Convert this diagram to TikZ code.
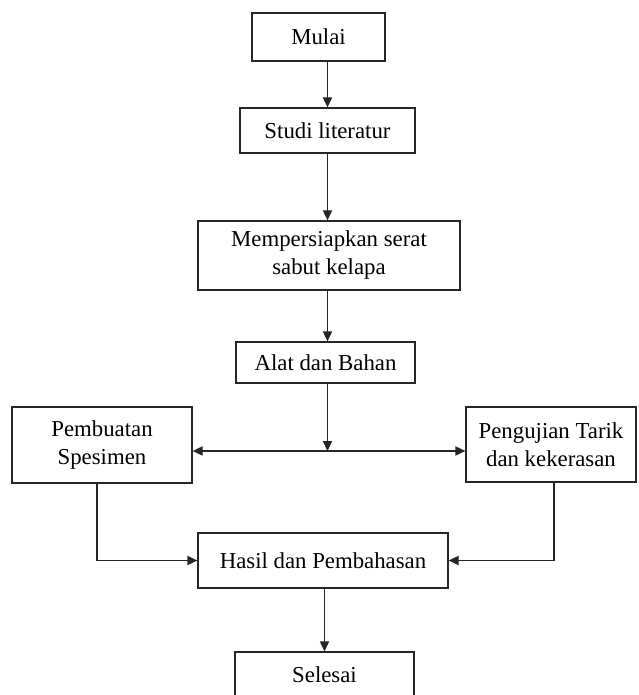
\documentclass[tikz,border=0pt]{standalone}
\usepackage{fontspec}
\setmainfont{Liberation Serif}
\usepackage{tikz}
\usetikzlibrary{positioning}
\usetikzlibrary{arrows.meta,calc}

\tikzset{
	proses/.style={draw=black!85, line width=0.65pt, inner sep=0pt, align=center,
		font=\fontsize{11.4}{14}\selectfont},
	panah/.style={draw=black!85, line width=0.65pt, -{Triangle[length=5pt,width=4.6pt]}}
}

\begin{document}
\begin{tikzpicture}[x=0.5pt,y=-0.5pt]
	
	\useasboundingbox (0,0) rectangle (638,695);
	
	% boxes of the flow, placed at their centres (pixel grid, y downwards)
	\node[proses, minimum width=66.5pt, minimum height=24pt]   (Mulai)    at (318.5,37)  {Mulai};
	\node[proses, minimum width=87.5pt, minimum height=22.5pt] (Studi)    at (327.5,130.5) {Studi literatur};
	\node[proses, minimum width=131pt,  minimum height=34.5pt] (Siap)     at (329,255.5) {Mempersiapkan serat\\sabut kelapa};
	\node[proses, minimum width=89.5pt, minimum height=20.5pt] (Alat)     at (325.5,362.5) {Alat dan Bahan};
	\node[proses, minimum width=90pt,   minimum height=38pt]   (Spesimen) at (102,445)   {Pembuatan\\Spesimen};
	\node[proses, minimum width=85pt,   minimum height=37.5pt] (Uji)      at (551,444.5) {Pengujian Tarik\\dan kekerasan};
	\node[proses, minimum width=125pt,  minimum height=27.5pt] (Hasil)    at (323,560.5) {Hasil dan Pembahasan};
	\node[proses, minimum width=89.5pt, minimum height=22.5pt] (Selesai)  at (324.5,674.5) {Selesai};
	
	% branching point below Alat dan Bahan
	\coordinate (Cabang) at (327.5,451);
	
	%%%%%%%%%%%%%%%%%%%%%%%%%%%%%%%%%%%%%%%%%%%%%%%%%%%%%%%%%%%%%%
	\draw[panah] (Studi.north |- Mulai.south) -- (Studi.north);
	\draw[panah] (Studi.south) -- (Studi.south |- Siap.north);
	\draw[panah] (Studi.south |- Siap.south) -- (Studi.south |- Alat.north);
	\draw[panah] (Cabang |- Alat.south) -- (Cabang);
	\draw[panah] (Cabang) -- (Cabang -| Spesimen.east);
	\draw[panah] (Cabang) -- (Cabang -| Uji.west);
	
	\draw[panah] ($(Spesimen.south)+(-5,0)$) |- (Hasil.west);
	\draw[panah] ($(Uji.south)+(3,0)$) |- (Hasil.east);
	\draw[panah] (Selesai.north |- Hasil.south) -- (Selesai.north);
	
\end{tikzpicture}
\end{document}
